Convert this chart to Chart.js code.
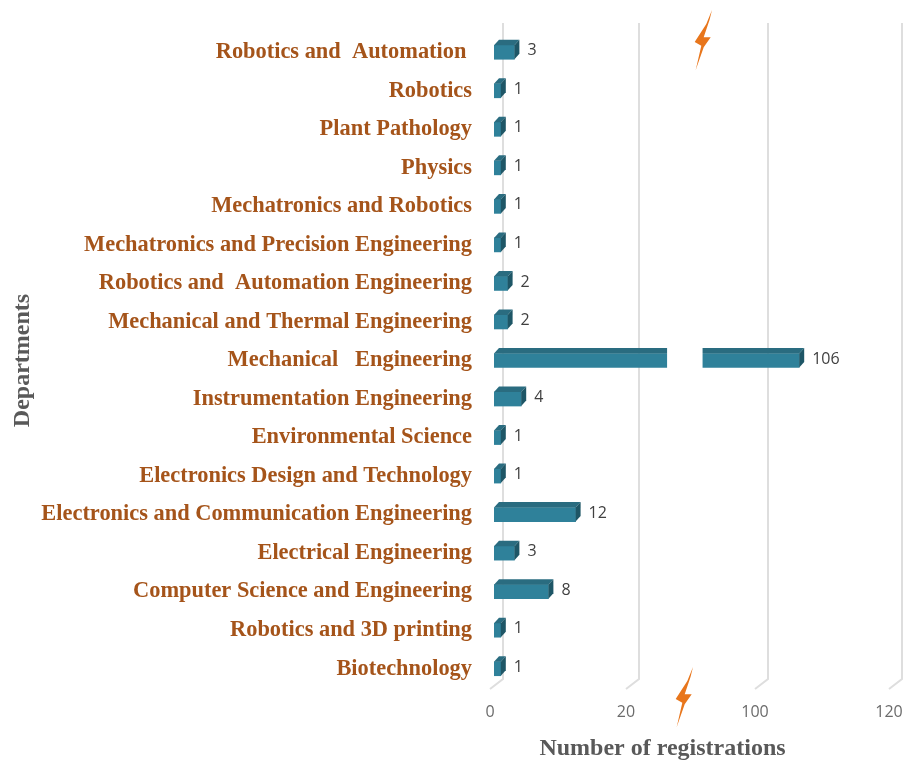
<!DOCTYPE html>
<html>
<head>
<meta charset="utf-8">
<title>Registrations by department</title>
<script src="https://cdn.jsdelivr.net/npm/chart.js@4"></script>
<style>
  body { margin: 0; background: #fff; }
  canvas { display: block; }
</style>
</head>
<body>
<canvas id="grafico" width="904" height="763"></canvas>
<script>
const departamentos = [
  'Robotics and  Automation ',
  'Robotics',
  'Plant Pathology',
  'Physics',
  'Mechatronics and Robotics',
  'Mechatronics and Precision Engineering',
  'Robotics and  Automation Engineering',
  'Mechanical and Thermal Engineering',
  'Mechanical   Engineering',
  'Instrumentation Engineering',
  'Environmental Science',
  'Electronics Design and Technology',
  'Electronics and Communication Engineering',
  'Electrical Engineering',
  'Computer Science and Engineering',
  'Robotics and 3D printing',
  'Biotechnology'
];
const registros = [3, 1, 1, 1, 1, 1, 2, 2, 106, 4, 1, 1, 12, 3, 8, 1, 1];
const ticksEixo = [0, 20, 100, 120];
const larguraTrechos = [136, 129, 134]; // the axis is broken, each stretch has its own width
const quebraEixo = [43, 65];            // white cut through the long bar

const corFrente = '#2f819a';
const corTopo = '#2a6c80';
const corLado = '#1e5666';
const corGrade = '#dedede';
const corCinza = '#595959';
const corDepto = '#a5541a';

// linear scale with a different slope between each pair of ticks
class EscalaQuebrada extends Chart.LinearScale {
  static id = 'quebrada';
  static defaults = Chart.LinearScale.defaults;

  buildTicks() {
    return ticksEixo.map((v) => ({ value: v }));
  }
  getPixelForValue(valor) {
    const total = larguraTrechos.reduce((a, b) => a + b, 0);
    let px = 0;
    for (let i = 0; i < larguraTrechos.length; i++) {
      const de = ticksEixo[i], ate = ticksEixo[i + 1];
      if (valor <= ate || i == larguraTrechos.length - 1) {
        px += larguraTrechos[i] * (valor - de) / (ate - de);
        break;
      }
      px += larguraTrechos[i];
    }
    return this.left + px * this.width / total;
  }
  // tick labels sit on the front of the 3D floor, bars a little behind it
  getPixelForTick(index) {
    return this.getPixelForValue(this.ticks[index].value) - 4;
  }
  drawTitle() {
    this.ctx.save();
    this.ctx.translate(-31, 0);
    super.drawTitle();
    this.ctx.restore();
  }
}
Chart.register(EscalaQuebrada);

const desenho3d = {
  id: 'desenho3d',
  beforeDatasetsDraw(chart) {
    // back wall grid with the short diagonal going to the front
    const ctx = chart.ctx;
    const x = chart.scales.x;
    ctx.save();
    ctx.strokeStyle = corGrade;
    ctx.lineWidth = 2;
    x.ticks.forEach((t) => {
      const px = x.getPixelForValue(t.value) - 4;
      ctx.beginPath();
      ctx.moveTo(px + 13, 23);
      ctx.lineTo(px + 13, chart.chartArea.bottom - 9);
      ctx.lineTo(px, chart.chartArea.bottom + 1);
      ctx.stroke();
    });
    ctx.restore();
  },
  afterDatasetsDraw(chart) {
    const ctx = chart.ctx;
    const x = chart.scales.x;
    const dx = 5, dy = 5.5;
    ctx.save();
    chart.getDatasetMeta(0).data.forEach((barra, i) => {
      const p = barra.getProps(['x', 'y', 'base', 'height']);
      const topo = p.y - p.height / 2;
      const baixo = p.y + p.height / 2;

      ctx.fillStyle = corTopo;
      ctx.beginPath();
      ctx.moveTo(p.base, topo);
      ctx.lineTo(p.base + dx, topo - dy);
      ctx.lineTo(p.x + dx, topo - dy);
      ctx.lineTo(p.x, topo);
      ctx.fill();

      ctx.fillStyle = corLado;
      ctx.beginPath();
      ctx.moveTo(p.x, topo);
      ctx.lineTo(p.x + dx, topo - dy);
      ctx.lineTo(p.x + dx, baixo - dy);
      ctx.lineTo(p.x, baixo);
      ctx.fill();

      // cut the bars that pass over the break
      if (registros[i] > quebraEixo[1]) {
        const a = x.getPixelForValue(quebraEixo[0]);
        const b = x.getPixelForValue(quebraEixo[1]);
        ctx.fillStyle = '#fff';
        ctx.fillRect(a, topo - dy - 1, b - a, p.height + dy + 2);
      }

      ctx.fillStyle = '#404040';
      ctx.font = '16px "Open Sans"';
      ctx.textAlign = 'left';
      ctx.textBaseline = 'middle';
      ctx.fillText(registros[i], p.x + dx + 8, p.y - 1.5);
    });
    ctx.restore();
  },
  afterDraw(chart) {
    // the two small orange bolts of the picture
    raio(chart.ctx, 712, 10);
    raio(chart.ctx, 693, 667);
  }
};

function raio(ctx, x, y) {
  const forma = [[0, 0], [-5.7, 14], [-17.3, 32], [-10.7, 35.7], [-16.3, 60],
    [-8.3, 37.3], [-1.3, 27.3], [-8.3, 27.3], [-2.5, 10]];
  ctx.save();
  ctx.fillStyle = '#e8761c';
  ctx.beginPath();
  forma.forEach((f, i) => {
    if (i == 0) ctx.moveTo(x + f[0], y + f[1]);
    else ctx.lineTo(x + f[0], y + f[1]);
  });
  ctx.closePath();
  ctx.fill();
  ctx.restore();
}

new Chart(document.getElementById('grafico'), {
  type: 'bar',
  plugins: [desenho3d],
  data: {
    labels: departamentos,
    datasets: [{
      data: registros,
      backgroundColor: corFrente,
      barThickness: 14
    }]
  },
  options: {
    indexAxis: 'y',
    responsive: false,
    animation: false,
    layout: { padding: { top: 33, right: 11 } },
    plugins: {
      legend: { display: false },
      title: { display: false },
      tooltip: { enabled: false }
    },
    scales: {
      x: {
        type: 'quebrada',
        min: 0,
        max: 120,
        grid: { display: false },
        border: { display: false },
        afterFit(s) {
          s.height = 75;
          s.paddingLeft = 0;
          s.paddingRight = 0;
        },
        ticks: {
          autoSkip: false,
          maxRotation: 0,
          padding: 7,
          color: '#6b6b6b',
          font: { family: '"Open Sans"', size: 16 }
        },
        title: {
          display: true,
          text: 'Number of registrations',
          color: corCinza,
          padding: { top: 2, bottom: 0 },
          font: { family: '"Liberation Serif"', size: 24, weight: 'bold' }
        }
      },
      y: {
        grid: { display: false },
        border: { display: false },
        afterFit(s) {
          s.width = 494;
        },
        ticks: {
          autoSkip: false,
          padding: 14,
          color: corDepto,
          font: { family: '"Liberation Serif"', size: 22.4, weight: 'bold' }
        },
        title: {
          display: true,
          text: 'Departments',
          color: corCinza,
          padding: { top: 8, bottom: 0 },
          font: { family: '"Liberation Serif"', size: 24, weight: 'bold' }
        }
      }
    }
  }
});
</script>
</body>
</html>
